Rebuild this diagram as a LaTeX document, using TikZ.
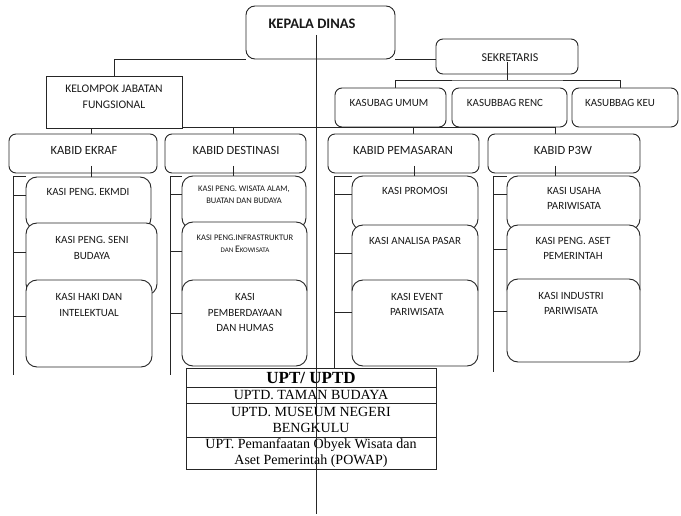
\documentclass[tikz,border=0pt]{standalone}
\usepackage{fontspec}
\setmainfont{Carlito}
\newfontfamily\tnr{Liberation Serif}
\pgfdeclarelayer{bg}
\pgfsetlayers{bg,main}
\newcommand\mkbox[6]{\node[#2, minimum width={(#5)-(#3)}, minimum height={(#6)-(#4)}] (#1) at ({((#3)+(#5))/2},{((#4)+(#6))/2}) {};}
\newcommand\fz[2]{\fontsize{#1}{#2}\selectfont}
\tikzset{
  ln/.style={line width=0.8pt, draw=black!85},
  sq/.style={draw=black!85, line width=0.9pt, fill=white, inner sep=0pt},
  rb/.style={sq, rounded corners=7pt},
  rbk/.style={sq, rounded corners=9pt},
  rbs/.style={sq, rounded corners=11pt},
  tx/.style={inner sep=0pt, align=center, text=black!90, font=\fz{11}{15.5}},
  txk/.style={tx, font=\fz{12.5}{15}},
  txs/.style={tx, font=\fz{8.5}{12}},
  tb/.style={draw=black!85, line width=0.7pt, fill=white, inner sep=0pt, minimum width=250pt, align=center, font=\tnr\fz{14}{16}},
}
\begin{document}
\begin{tikzpicture}[x=1pt, y=-1pt]
\useasboundingbox (0,0) rectangle (681,516);
% coordinates
\coordinate (sbus) at (507,80);
\coordinate (b1) at (91,127);
\coordinate (b2) at (233,127);
\coordinate (b3) at (413,127);
\coordinate (b4) at (555,127);
\coordinate (cl) at (316,35);
\coordinate (cle) at (316,514);
% column coordinates
\coordinate (c1) at (13,176); \coordinate (c1e) at (13,375);
\coordinate (p11) at (13,195); \coordinate (p12) at (13,252); \coordinate (p13) at (13,316);
\coordinate (c2) at (170,176); \coordinate (c2e) at (170,375);
\coordinate (p21) at (170,194); \coordinate (p22) at (170,251); \coordinate (p23) at (170,313);
\coordinate (c3) at (334,176); \coordinate (c3e) at (334,368);
\coordinate (p31) at (334,194); \coordinate (p32) at (334,253); \coordinate (p33) at (334,312);
\coordinate (c4) at (493,176); \coordinate (c4e) at (493,372);
\coordinate (p41) at (493,194); \coordinate (p42) at (493,249); \coordinate (p43) at (493,311);

% ---------- boxes ----------
\mkbox{kd}{rbk}{246}{6}{395}{59}
\mkbox{sek}{rb}{436}{39}{578}{74}
\mkbox{kjf}{sq}{46}{76}{182}{128}
\mkbox{ku}{rb}{335}{88}{446}{127}
\mkbox{kr}{rb}{452}{88}{567}{127}
\mkbox{kk}{rb}{572}{88}{678}{127}
\mkbox{k1}{rb}{9}{134}{157}{173}
\mkbox{k2}{rb}{165}{134}{306}{173}
\mkbox{k3}{rb}{328}{134}{479}{173}
\mkbox{k4}{rb}{488}{134}{640}{173}

\mkbox{s11}{rbs}{26}{177}{151}{229}
\mkbox{s12}{rbs}{26}{223}{157}{295}
\mkbox{s13}{rbs}{26}{280}{152}{367}
\mkbox{s21}{rbs}{182}{176}{306}{229}
\mkbox{s22}{rbs}{182}{222}{307}{300}
\mkbox{s23}{rbs}{182}{280}{307}{366}
\mkbox{s31}{rbs}{352}{176}{478}{230}
\mkbox{s32}{rbs}{352}{225}{478}{300}
\mkbox{s33}{rbs}{352}{280}{478}{366}
\mkbox{s41}{rbs}{507}{176}{640}{230}
\mkbox{s42}{rbs}{507}{225}{640}{300}
\mkbox{s43}{rbs}{507}{279}{640}{362}

% ---------- connectors behind boxes ----------
\begin{pgfonlayer}{bg}
\draw[ln] (kd.south west) -| (kjf.north);
\draw[ln] (kd.south east) -- (kd.south east -| sek.west);
\draw[ln] ([xshift=5pt]ku.north) |- (sbus) -| ([xshift=-5pt]kk.north);
\draw[ln] (b1 |- k1.north) -- (b1) -- (b4) -- (b4 |- k4.north);
\draw[ln] (b2) -- (b2 |- k2.north);
\draw[ln] (b3) -- (b3 |- k3.north);
\draw[ln] (c1 -| s11.west) -- (c1) -- (c1e);
\draw[ln] (c2 -| s21.west) -- (c2) -- (c2e);
\draw[ln] (c3 -| s31.west) -- (c3) -- (c3e);
\draw[ln] (c4 -| s41.west) -- (c4) -- (c4e);
\foreach \i in {1,2,3,4}{
  \foreach \j in {1,2,3}{
    \draw[ln] (p\i\j) -- (p\i\j -| s\i1.west);
  }
}
\end{pgfonlayer}

% ---------- texts ----------
\node[tx, font=\bfseries\fz{14.5}{16}] (tkd) at (312,24) {KEPALA DINAS};
\node[tx, font=\fz{12}{15}] (tsek) at (510,58) {SEKRETARIS};
\node[tx, font=\fz{11.6}{16}] (tkjf) at (114,97) {KELOMPOK JABATAN\\FUNGSIONAL};
\node[tx] (tku) at (389,103) {KASUBAG UMUM};
\node[tx] (tkr) at (505,103) {KASUBBAG RENC};
\node[tx] (tkk) at (620,103) {KASUBBAG KEU};
\node[txk] (tk1) at (84,150) {KABID EKRAF};
\node[txk] (tk2) at (236,150) {KABID DESTINASI};
\node[txk] (tk3) at (403,150) {KABID PEMASARAN};
\node[txk] (tk4) at (563,150) {KABID P3W};
\node[tx] (ts11) at (88,192) {KASI PENG. EKMDI};
\node[tx] (ts12) at (92,248) {KASI PENG. SENI\\BUDAYA};
\node[tx] (ts13) at (89,305) {KASI HAKI DAN\\INTELEKTUAL};
\node[txs] (ts21) at (244,194.5) {KASI PENG. WISATA ALAM,\\BUATAN DAN BUDAYA};
\node[txs] (ts22) at (245,243.5) {KASI PENG.INFRASTRUKTUR\\{\fz{7}{12}DAN }{\fz{10}{12}E}{\fz{7}{12}KOWISATA}};
\node[tx] (ts23) at (245,312.5) {KASI\\PEMBERDAYAAN\\DAN HUMAS};
\node[tx] (ts31) at (415,191) {KASI PROMOSI};
\node[tx] (ts32) at (415,241) {KASI ANALISA PASAR};
\node[tx] (ts33) at (417,304.5) {KASI EVENT\\PARIWISATA};
\node[tx] (ts41) at (574,198.5) {KASI USAHA\\PARIWISATA};
\node[tx] (ts42) at (573,248.5) {KASI PENG. ASET\\PEMERINTAH};
\node[tx] (ts43) at (571,303.5) {KASI INDUSTRI\\PARIWISATA};

% ---------- stubs drawn over boxes ----------
\draw[ln] ([yshift=-6pt]sek.center) -- (sbus);
\coordinate (t1) at (91,166);
\coordinate (t2) at (233,166);
\coordinate (t3) at (414,166);
\coordinate (t4) at (555,166);
\draw[ln] (t1) -- (t1 |- s11.north);
\draw[ln] (t2) -- (t2 |- s21.north);
\draw[ln] (t3) -- (t3 |- s31.north);
\draw[ln] (t4) -- (t4 |- s41.north);

% ---------- UPT table ----------
\node[tb, minimum height=19pt, font=\tnr\bfseries\fz{17}{18}] (u0) at (311,377.5) {UPT/ UPTD};
\node[tb, minimum height=16pt] (u1) at (311,395) {UPTD. TAMAN BUDAYA};
\node[tb, minimum height=34pt] (u2) at (311,420) {UPTD. MUSEUM NEGERI\\BENGKULU};
\node[tb, minimum height=32pt] (u3) at (311,453) {UPT. Pemanfaatan Obyek Wisata dan\\Aset Pemerintah (POWAP)};

% ---------- long centre line ----------
\draw[ln] (cl) -- (cle);
\end{tikzpicture}
\end{document}
